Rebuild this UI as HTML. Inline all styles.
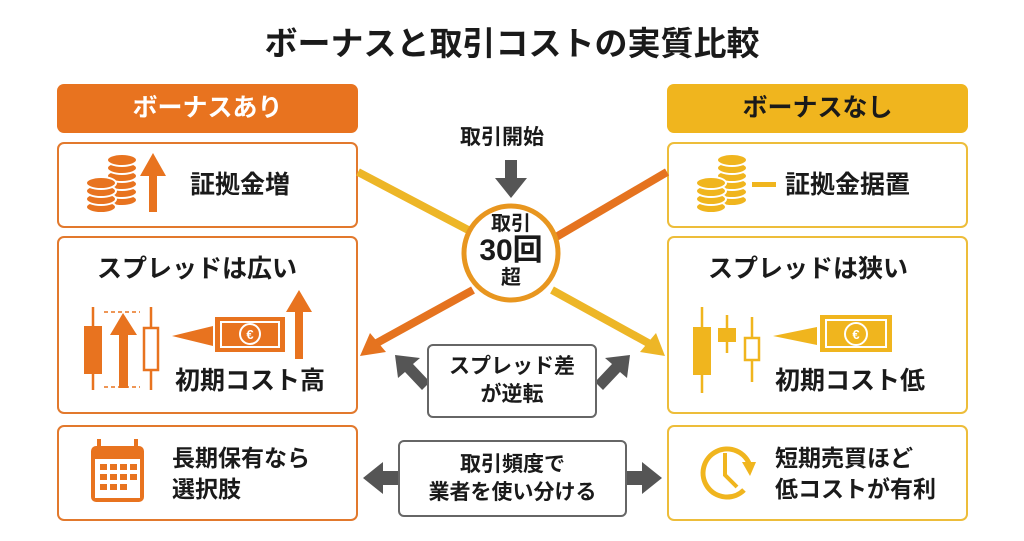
<!DOCTYPE html>
<html><head><meta charset="utf-8"><style>
*{margin:0;padding:0;box-sizing:border-box}
body{width:1024px;height:541px;background:#fff;position:relative;overflow:hidden;font-family:"Liberation Sans","Noto Sans CJK JP",sans-serif;font-weight:bold;color:#1a1a1a}
.a{position:absolute}
.box{position:absolute;border:2.5px solid #E2792D;border-radius:7px;background:#fff}
.y{border-color:#EDBD3A}
.hdr{position:absolute;border-radius:7px;text-align:center;font-size:25px;line-height:49px}
.t{position:absolute;font-size:23px;line-height:31px;white-space:nowrap}
.gb{position:absolute;border:2px solid #666;border-radius:6px;background:#fff;text-align:center;font-size:21px;line-height:28px}
</style></head><body>
<div class="a" style="left:0;width:1024px;top:22px;text-align:center;font-size:33px;line-height:44px">ボーナスと取引コストの実質比較</div>

<div class="hdr" style="left:57px;top:84px;width:301px;height:49px;background:#E8731F;color:#fff">ボーナスあり</div>
<div class="hdr" style="left:667px;top:84px;width:301px;height:49px;background:#F0B51E">ボーナスなし</div>

<div class="box" style="left:57px;top:142px;width:301px;height:86px"></div>
<div class="box" style="left:57px;top:236px;width:301px;height:178px"></div>
<div class="box" style="left:57px;top:425px;width:301px;height:96px"></div>
<div class="box y" style="left:667px;top:142px;width:301px;height:86px"></div>
<div class="box y" style="left:667px;top:236px;width:301px;height:178px"></div>
<div class="box y" style="left:667px;top:425px;width:301px;height:96px"></div>

<div class="t" style="left:190px;top:170px;font-size:25px">証拠金増</div>
<div class="t" style="left:97px;top:254px;font-size:25px">スプレッドは広い</div>
<div class="t" style="left:175px;top:366px;font-size:25px">初期コスト高</div>
<div class="t" style="left:172px;top:443px">長期保有なら<br>選択肢</div>
<div class="t" style="left:785px;top:170px;font-size:25px">証拠金据置</div>
<div class="t" style="left:708px;top:254px;font-size:25px">スプレッドは狭い</div>
<div class="t" style="left:775px;top:366px;font-size:25px">初期コスト低</div>
<div class="t" style="left:775px;top:443px">短期売買ほど<br>低コストが有利</div>

<div class="t" style="left:460px;top:122px;font-size:21px">取引開始</div>

<svg class="a" style="left:0;top:0" width="1024" height="541">
<g stroke-width="8" fill="none">
<line x1="358" y1="172" x2="472" y2="232" stroke="#EDB627"/>
<line x1="667" y1="172" x2="551" y2="240" stroke="#E5731F"/>
<line x1="473" y1="290" x2="375" y2="344" stroke="#E5731F"/>
<line x1="552" y1="290" x2="650" y2="344" stroke="#EDB627"/>
</g>
<polygon points="360,356 370,333 386,352" fill="#E5731F"/>
<polygon points="665,356 640,352 656,333" fill="#EDB627"/>
<circle cx="511" cy="253" r="47" fill="#fff" stroke="#E8961F" stroke-width="5"/>
<polygon points="505,160 517,160 517,178 527,178 511,198 495,178 505,178" fill="#555"/>
<g fill="#555">
<polygon points="395,355 420,358 413,364 430,382 422,390 405,372 398,378"/>
<polygon points="630,355 627,378 620,372 603,390 595,382 612,364 605,358"/>
<polygon points="363,478 383,462 383,471 398,471 398,485 383,485 383,494"/>
<polygon points="662,478 642,462 642,471 627,471 627,485 642,485 642,494"/>
</g>
<g fill="#E8731F" stroke="#fff" stroke-width="2">
<ellipse cx="122" cy="200" rx="15" ry="6"/><ellipse cx="122" cy="192" rx="15" ry="6"/><ellipse cx="122" cy="184" rx="15" ry="6"/><ellipse cx="122" cy="176" rx="15" ry="6"/><ellipse cx="122" cy="168" rx="15" ry="6"/><ellipse cx="122" cy="160" rx="15" ry="6"/>
<ellipse cx="101" cy="207" rx="15" ry="6"/><ellipse cx="101" cy="199" rx="15" ry="6"/><ellipse cx="101" cy="191" rx="15" ry="6"/><ellipse cx="101" cy="183" rx="15" ry="6"/>
</g>
<polygon points="149,212 157,212 157,176 166,176 153,153 140,176 149,176" fill="#E8731F"/>
<g fill="#F0B51E" stroke="#fff" stroke-width="2">
<ellipse cx="732" cy="200" rx="15" ry="6"/><ellipse cx="732" cy="192" rx="15" ry="6"/><ellipse cx="732" cy="184" rx="15" ry="6"/><ellipse cx="732" cy="176" rx="15" ry="6"/><ellipse cx="732" cy="168" rx="15" ry="6"/><ellipse cx="732" cy="160" rx="15" ry="6"/>
<ellipse cx="711" cy="207" rx="15" ry="6"/><ellipse cx="711" cy="199" rx="15" ry="6"/><ellipse cx="711" cy="191" rx="15" ry="6"/><ellipse cx="711" cy="183" rx="15" ry="6"/>
</g>
<rect x="752" y="182" width="24" height="5" fill="#F0B51E"/>
<g stroke="#E8731F" stroke-width="2.5">
<line x1="93" y1="307" x2="93" y2="390"/><line x1="151" y1="307" x2="151" y2="390"/>
<line x1="104" y1="312" x2="140" y2="312" stroke-dasharray="4,3" stroke-width="1.5"/>
<line x1="104" y1="387" x2="140" y2="387" stroke-dasharray="4,3" stroke-width="1.5"/>
</g>
<rect x="84" y="326" width="18" height="48" fill="#E8731F"/>
<rect x="144" y="328" width="14" height="42" fill="#fff" stroke="#E8731F" stroke-width="2.5"/>
<polygon points="119,388 128,388 128,335 137,335 123,313 110,335 119,335" fill="#E8731F"/>
<polygon points="172,336 213,326 213,346" fill="#E8731F"/>
<rect x="215" y="317" width="70" height="35" fill="#E8731F"/>
<rect x="221" y="322" width="58" height="25" fill="none" stroke="#fff" stroke-width="2"/>
<circle cx="250" cy="334" r="10" fill="#E8731F" stroke="#fff" stroke-width="2"/>
<text x="250" y="339" fill="#fff" font-size="13" text-anchor="middle" font-family="Liberation Sans">€</text>
<polygon points="295,359 303,359 303,312 312,312 299,290 286,312 295,312" fill="#E8731F"/>
<g stroke="#F0B51E" stroke-width="2.5">
<line x1="702" y1="307" x2="702" y2="393"/><line x1="727" y1="315" x2="727" y2="353"/><line x1="752" y1="317" x2="752" y2="382"/>
</g>
<rect x="693" y="327" width="18" height="48" fill="#F0B51E"/>
<rect x="718" y="328" width="18" height="14" fill="#F0B51E"/>
<rect x="745" y="338" width="14" height="22" fill="#fff" stroke="#F0B51E" stroke-width="2.5"/>
<polygon points="773,336 817,327 817,345" fill="#F0B51E"/>
<rect x="820" y="315" width="72" height="37" fill="#F0B51E"/>
<rect x="826" y="320" width="60" height="27" fill="none" stroke="#fff" stroke-width="2"/>
<circle cx="856" cy="334" r="11" fill="#F0B51E" stroke="#fff" stroke-width="2"/>
<text x="856" y="339" fill="#fff" font-size="13" text-anchor="middle" font-family="Liberation Sans">€</text>
<rect x="91" y="446" width="53" height="56" rx="5" fill="#E8731F"/>
<rect x="95" y="459" width="45" height="39" fill="#fff"/>
<rect x="97" y="439" width="4" height="12" fill="#E8731F"/><rect x="134" y="439" width="4" height="12" fill="#E8731F"/>
<g fill="#E8731F">
<rect x="100" y="464" width="7" height="6"/><rect x="110" y="464" width="7" height="6"/><rect x="120" y="464" width="7" height="6"/><rect x="130" y="464" width="7" height="6"/>
<rect x="100" y="474" width="7" height="6"/><rect x="110" y="474" width="7" height="6"/><rect x="120" y="474" width="7" height="6"/><rect x="130" y="474" width="7" height="6"/>
<rect x="100" y="484" width="7" height="6"/><rect x="110" y="484" width="7" height="6"/><rect x="120" y="484" width="7" height="6"/>
</g>
<path d="M744 490 A24 24 0 1 1 750 466" fill="none" stroke="#F0B51E" stroke-width="5"/>
<polygon points="742,462 756,462 750,476" fill="#F0B51E"/>
<polyline points="725,453 725,475 737,487" fill="none" stroke="#F0B51E" stroke-width="4"/>
</svg>

<div class="a" style="left:464px;top:213px;width:94px;text-align:center;font-size:20px;line-height:22px">取引</div>
<div class="a" style="left:464px;top:235px;width:94px;text-align:center;font-size:30px;line-height:32px">30回</div>
<div class="a" style="left:464px;top:267px;width:94px;text-align:center;font-size:20px;line-height:22px">超</div>

<div class="gb" style="left:427px;top:344px;width:170px;height:74px;padding-top:7px">スプレッド差<br>が逆転</div>
<div class="gb" style="left:398px;top:440px;width:229px;height:77px;padding-top:9px">取引頻度で<br>業者を使い分ける</div>
</body></html>
